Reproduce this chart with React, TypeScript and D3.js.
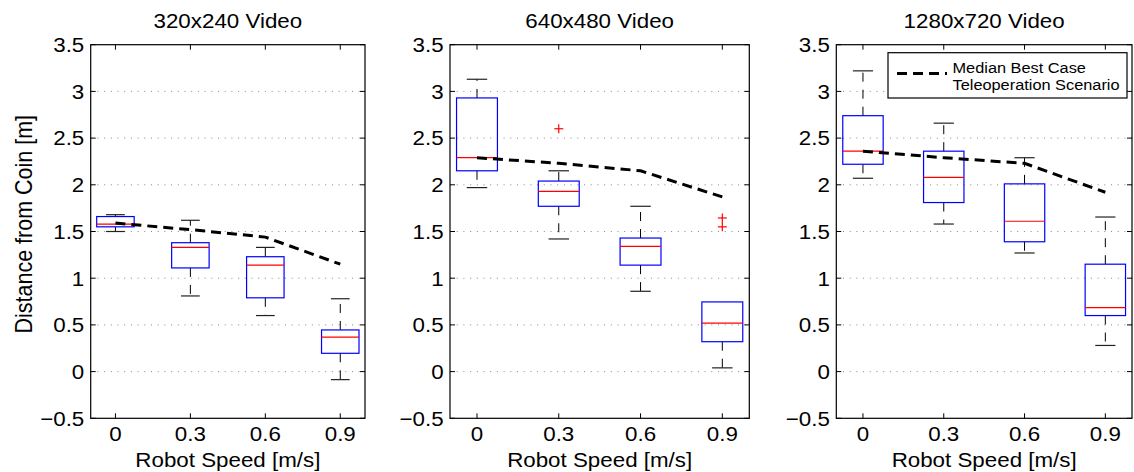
import React from "react";
import * as d3 from "d3";

const speeds = ["0", "0.3", "0.6", "0.9"];
const titles = ["320x240 Video", "640x480 Video", "1280x720 Video"];
const yTicks = [-0.5, 0, 0.5, 1, 1.5, 2, 2.5, 3, 3.5];

// panel 1: 320x240
const p1Low = [1.5, 0.81, 0.6, -0.086];
const p1Q1 = [1.55, 1.11, 0.79, 0.196];
const p1Med = [1.58, 1.33, 1.14, 0.37];
const p1Q3 = [1.66, 1.38, 1.23, 0.446];
const p1High = [1.68, 1.62, 1.33, 0.78];
const p1Out: number[][] = [[], [], [], []];
const p1Best = [1.59, 1.52, 1.44, 1.15];

// panel 2: 640x480
const p2Low = [1.97, 1.42, 0.86, 0.04];
const p2Q1 = [2.15, 1.77, 1.14, 0.32];
const p2Med = [2.29, 1.93, 1.34, 0.52];
const p2Q3 = [2.93, 2.04, 1.43, 0.746];
const p2High = [3.13, 2.15, 1.77, 0.746];
const p2Out: number[][] = [[], [2.6], [], [1.645, 1.55]];
const p2Best = [2.29, 2.23, 2.15, 1.87];

// panel 3: 1280x720
const p3Low = [2.07, 1.58, 1.27, 0.28];
const p3Q1 = [2.22, 1.81, 1.39, 0.6];
const p3Med = [2.36, 2.08, 1.61, 0.685];
const p3Q3 = [2.74, 2.36, 2.01, 1.15];
const p3High = [3.22, 2.66, 2.29, 1.655];
const p3Out: number[][] = [[], [], [], []];
const p3Best = [2.36, 2.29, 2.23, 1.92];

const legendLines = ["Median Best Case", "Teleoperation Scenario"];

const panelsData = [
  { low: p1Low, q1: p1Q1, med: p1Med, q3: p1Q3, high: p1High, out: p1Out, best: p1Best },
  { low: p2Low, q1: p2Q1, med: p2Med, q3: p2Q3, high: p2High, out: p2Out, best: p2Best },
  { low: p3Low, q1: p3Q1, med: p3Med, q3: p3Q3, high: p3High, out: p3Out, best: p3Best },
];

const W = 1134;
const H = 472;
const TOP = 44.7;
const BOTTOM = 418.3;
const layout = [
  { left: 90.7, right: 365 },
  { left: 450, right: 749.3 },
  { left: 836.3, right: 1132 },
];
const FONT = "Liberation Sans, Arial, Helvetica, sans-serif";
const FS = 20.5;
const SX = 1.09;

function T({
  x,
  y,
  anchor = "start",
  size = FS,
  rotate = 0,
  children,
}: {
  x: number;
  y: number;
  anchor?: string;
  size?: number;
  rotate?: number;
  children: React.ReactNode;
}) {
  return (
    <text
      transform={`translate(${x},${y}) scale(${SX},1)${rotate ? ` rotate(${rotate})` : ""}`}
      textAnchor={anchor}
      fontSize={size}
      fontFamily={FONT}
      fill="#000"
    >
      {children}
    </text>
  );
}

function Panel({ idx }: { idx: number }) {
  const { left, right } = layout[idx];
  const d = panelsData[idx];
  const x = d3.scaleLinear().domain([0.67, 4.33]).range([left, right]);
  const y = d3.scaleLinear().domain([-0.5, 3.5]).range([BOTTOM, TOP]);
  const bw = x(1.25) - x(1);
  const cw = x(1.125) - x(1);
  const line = d3
    .line<number>()
    .x((_, i) => x(i + 1))
    .y((v) => y(v));
  return (
    <g>
      {yTicks
        .filter((t) => t > -0.5 && t < 3.5)
        .map((t) => (
          <line
            key={"g" + t}
            x1={left}
            x2={right}
            y1={y(t)}
            y2={y(t)}
            stroke="#888"
            strokeWidth={1}
            strokeDasharray="1,5.7"
          />
        ))}
      {speeds.map((s, i) => {
        const cx = x(i + 1);
        return (
          <g key={"b" + i}>
            <line x1={cx} x2={cx} y1={y(d.q3[i])} y2={y(d.high[i])} stroke="#000" strokeDasharray="9,8" strokeWidth={1} />
            <line x1={cx} x2={cx} y1={y(d.q1[i])} y2={y(d.low[i])} stroke="#000" strokeDasharray="9,8" strokeWidth={1} />
            {d.high[i] > d.q3[i] && (
              <line x1={cx - cw} x2={cx + cw} y1={y(d.high[i])} y2={y(d.high[i])} stroke="#222" strokeWidth={1.2} />
            )}
            <line x1={cx - cw} x2={cx + cw} y1={y(d.low[i])} y2={y(d.low[i])} stroke="#222" strokeWidth={1.2} />
            <rect
              x={cx - bw}
              y={y(d.q3[i])}
              width={2 * bw}
              height={y(d.q1[i]) - y(d.q3[i])}
              fill="none"
              stroke="#0000ff"
              strokeWidth={1.2}
            />
            <line x1={cx - bw} x2={cx + bw} y1={y(d.med[i])} y2={y(d.med[i])} stroke="#ff0000" strokeWidth={1.2} />
            {d.out[i].map((o, k) => (
              <g key={k} stroke="#ff0000" strokeWidth={1.2}>
                <line x1={cx - 4.5} x2={cx + 4.5} y1={y(o)} y2={y(o)} />
                <line x1={cx} x2={cx} y1={y(o) - 4.5} y2={y(o) + 4.5} />
              </g>
            ))}
          </g>
        );
      })}
      <path d={line(d.best) || ""} fill="none" stroke="#000" strokeWidth={3} strokeDasharray="10,6" />
      <rect x={left} y={TOP} width={right - left} height={BOTTOM - TOP} fill="none" stroke="#000" strokeWidth={1.2} />
      {yTicks.map((t) => (
        <g key={"t" + t}>
          <line x1={left} x2={left + 5} y1={y(t)} y2={y(t)} stroke="#000" />
          <line x1={right} x2={right - 5} y1={y(t)} y2={y(t)} stroke="#000" />
          <T x={left - 6.4} y={y(t) + 0.358 * FS} anchor="end">
            {t < 0 ? "\u2212" + Math.abs(t) : String(t)}
          </T>
        </g>
      ))}
      {speeds.map((s, i) => (
        <g key={"x" + i}>
          <line x1={x(i + 1)} x2={x(i + 1)} y1={BOTTOM} y2={BOTTOM - 5} stroke="#000" />
          <line x1={x(i + 1)} x2={x(i + 1)} y1={TOP} y2={TOP + 5} stroke="#000" />
          <T x={x(i + 1)} y={440.7} anchor="middle">
            {s}
          </T>
        </g>
      ))}
      <T x={(left + right) / 2} y={466.7} anchor="middle">
        Robot Speed [m/s]
      </T>
      <T x={(left + right) / 2} y={28.3} anchor="middle">
        {titles[idx]}
      </T>
    </g>
  );
}

export default function App() {
  return (
    <svg
      width={W}
      height={H}
      style={{ position: "absolute", left: 0, top: 0, background: "#fff" }}
    >
      <rect x={0} y={0} width={W} height={H} fill="#fff" />
      {[0, 1, 2].map((i) => (
        <Panel key={i} idx={i} />
      ))}
      <T x={31.5} y={224.2} anchor="middle" rotate={-90} size={21.5}>
        Distance from Coin [m]
      </T>
      <g>
        <rect x={888} y={52.7} width={239} height={45.3} fill="#fff" stroke="#000" strokeWidth={1.2} />
        <line x1={897} x2={947} y1={73.5} y2={73.5} stroke="#000" strokeWidth={3} strokeDasharray="10,6" />
        {legendLines.map((l, k) => (
          <T key={k} x={952.5} y={72.7 + k * 17.3} size={15}>
            {l}
          </T>
        ))}
      </g>
    </svg>
  );
}
